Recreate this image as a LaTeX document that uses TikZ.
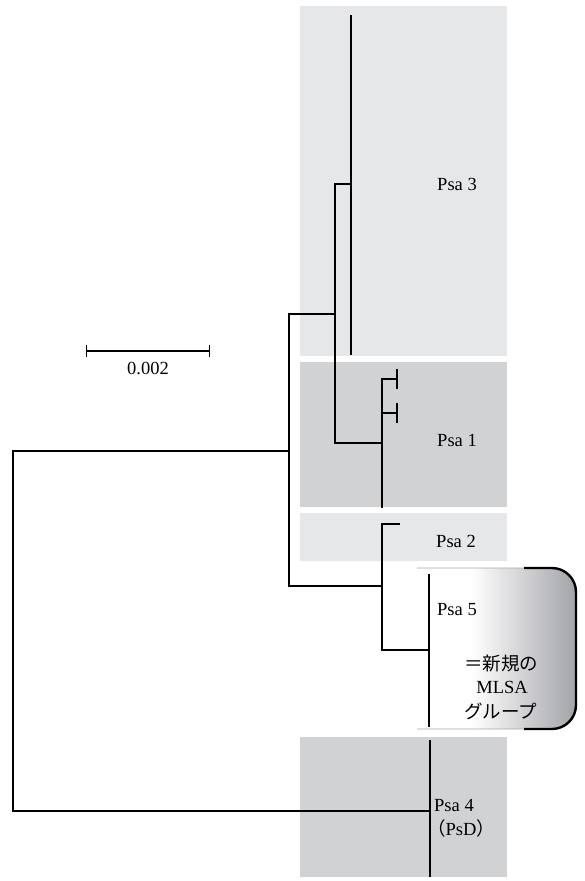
\documentclass[tikz,border=0pt]{standalone}
\usepackage{fontspec}
\setmainfont{Liberation Serif}
\newfontfamily\jpfont{Noto Sans CJK JP}
\usetikzlibrary{arrows.meta, positioning}
\definecolor{boxlight}{HTML}{E6E7E9}
\definecolor{boxdark}{HTML}{D1D2D4}
\definecolor{grpgray}{HTML}{A3A4A8}
\pgfdeclarehorizontalshading{grpshade}{100bp}{color(0bp)=(white); color(42bp)=(white); color(75bp)=(grpgray); color(100bp)=(grpgray)}

\begin{document}
\begin{tikzpicture}[x=1pt, y=-1pt, font=\fontsize{18.5}{21}\selectfont,
    branch/.style={line width=1.3pt, line cap=rect},
    leafbar/.style={line width=1.9pt},
    lbl/.style={inner sep=0pt}]
    \useasboundingbox (0,0) rectangle (584,881);
    % clade backgrounds
    \fill[boxlight] (300,6) rectangle (507,356);
    \fill[boxdark] (300,362) rectangle (507,507);
    \fill[boxlight] (300,513) rectangle (507,561);
    \fill[boxdark] (300,737) rectangle (507,877);
    % new MLSA group
    \shade[shading=grpshade, rounded corners=24] (417,568) -- (576,568) -- (576,729) -- (417,729);
    \draw[black!35, line width=0.8pt, rounded corners=24] (417,568) -- (576,568) -- (576,729) -- (417,729);
    \draw[line width=2.4pt, rounded corners=24] (524,568) -- (576,568) -- (576,729) -- (524,729);

    % tree nodes
    \coordinate (psa3) at (351,184);
    \coordinate (psa3top) at (351,15);
    \coordinate (psa3bot) at (351,355);
    \coordinate (n31) at (335,314);
    \coordinate (n1) at (382,443);
    \coordinate (psa1a) at (397,379);
    \coordinate (psa1b) at (397,413);
    \coordinate (psa1end) at (382,507);
    \coordinate (n25) at (382,586);
    \coordinate (psa2) at (399,524);
    \coordinate (psa5) at (429,650);
    \coordinate (psa5top) at (429,574);
    \coordinate (psa5bot) at (429,727);
    \coordinate (n1235) at (289,451);
    \coordinate (root) at (13,631);
    \coordinate (psa4) at (430,811);
    \coordinate (psa4top) at (430,740);
    \coordinate (psa4bot) at (430,877);

    \draw[branch] (n1235) -| (root) |- (psa4);
    \draw[branch] (n31) -| (n1235) |- (n25);
    \draw[branch] (psa3) -| (n31) |- (n1);
    \draw[branch] (psa1a) -| (n1) -- (psa1end);
    \draw[branch] (n1 |- psa1b) -- (psa1b);
    \draw[branch] ([yshift=9.5pt]psa1a) -- ([yshift=-9.5pt]psa1a);
    \draw[branch] ([yshift=9.5pt]psa1b) -- ([yshift=-9.5pt]psa1b);
    \draw[branch] (psa2) -| (n25) |- (psa5);
    \draw[leafbar] (psa3top) -- (psa3bot);
    \draw[leafbar] (psa5top) -- (psa5bot);
    \draw[leafbar] (psa4top) -- (psa4bot);

    % labels
    \node[lbl] (l3) at (457,184) {Psa 3};
    \node[lbl] (l1) at (457,440) {Psa 1};
    \node[lbl] (l2) at (456,541) {Psa 2};
    \node[lbl, anchor=west] (l5) at (437,610) {Psa 5};
    \node[lbl, anchor=west] (nj1) at (464,664) {\jpfont ＝新規の};
    \node[lbl] (nj2) at (502,687) {MLSA};
    \node[lbl, anchor=west] (nj3) at (464,711) {\jpfont グループ};
    \node[lbl, anchor=west] (l4) at (434,805) {Psa 4};
    \node[lbl, anchor=west] (l4b) at (427,828) {{\jpfont （}PsD{\jpfont ）}};

    % scale bar
    \coordinate (sbl) at (86,351);
    \coordinate (sbr) at (210,351);
    \draw[line width=1.4pt, {Bar[width=12pt]}-{Bar[width=12pt]}] (sbl) -- (sbr);
    \node[lbl] (sblabel) at (148,368) {0.002};
\end{tikzpicture}
\end{document}
